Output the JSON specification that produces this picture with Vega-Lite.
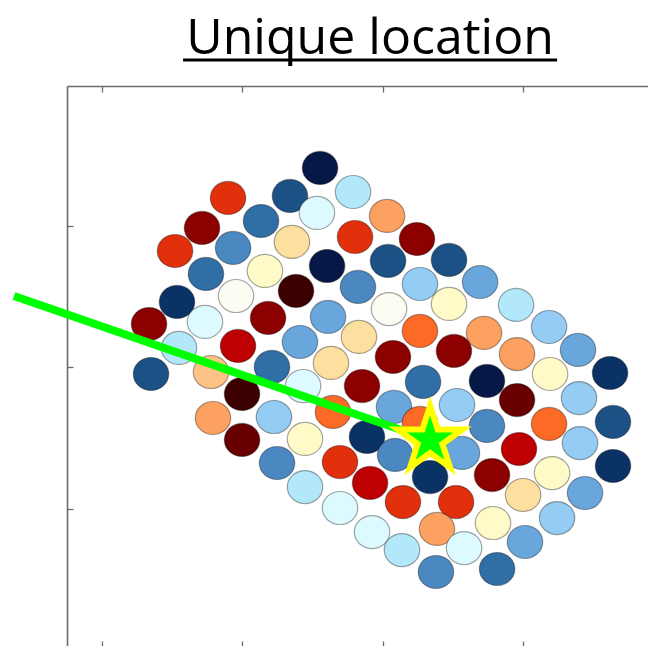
{
  "$schema": "https://vega.github.io/schema/vega-lite/v6.json",
  "width": 581,
  "height": 560,
  "autosize": {"type": "none"},
  "padding": {"left": 67, "top": 86, "right": 0, "bottom": 0},
  "background": "white",
  "config": {"view": {"stroke": null}},
  "datasets": {
    "cells": [
      {"x": 2.554, "y": 3.410, "level": 0},
      {"x": 2.789, "y": 3.240, "level": 7},
      {"x": 3.031, "y": 3.071, "level": 13},
      {"x": 3.244, "y": 2.908, "level": 17},
      {"x": 3.472, "y": 2.760, "level": 2},
      {"x": 3.693, "y": 2.604, "level": 5},
      {"x": 3.949, "y": 2.442, "level": 7},
      {"x": 4.184, "y": 2.286, "level": 6},
      {"x": 4.390, "y": 2.124, "level": 5},
      {"x": 4.618, "y": 1.961, "level": 1},
      {"x": 1.899, "y": 3.198, "level": 15},
      {"x": 2.340, "y": 3.212, "level": 2},
      {"x": 2.532, "y": 3.092, "level": 8},
      {"x": 2.803, "y": 2.922, "level": 15},
      {"x": 3.038, "y": 2.753, "level": 2},
      {"x": 3.265, "y": 2.590, "level": 6},
      {"x": 3.472, "y": 2.449, "level": 10},
      {"x": 3.721, "y": 2.244, "level": 13},
      {"x": 3.956, "y": 2.095, "level": 13},
      {"x": 4.191, "y": 1.954, "level": 10},
      {"x": 4.397, "y": 1.784, "level": 6},
      {"x": 4.639, "y": 1.615, "level": 2},
      {"x": 1.714, "y": 2.986, "level": 17},
      {"x": 2.134, "y": 3.035, "level": 3},
      {"x": 2.354, "y": 2.887, "level": 11},
      {"x": 2.604, "y": 2.717, "level": 0},
      {"x": 2.824, "y": 2.569, "level": 4},
      {"x": 3.045, "y": 2.413, "level": 9},
      {"x": 3.265, "y": 2.258, "level": 14},
      {"x": 3.507, "y": 2.117, "level": 17},
      {"x": 3.742, "y": 1.905, "level": 0},
      {"x": 3.956, "y": 1.770, "level": 18},
      {"x": 4.184, "y": 1.601, "level": 14},
      {"x": 4.404, "y": 1.466, "level": 6},
      {"x": 4.639, "y": 1.304, "level": 1},
      {"x": 1.522, "y": 2.823, "level": 15},
      {"x": 1.935, "y": 2.845, "level": 4},
      {"x": 2.162, "y": 2.682, "level": 10},
      {"x": 2.383, "y": 2.541, "level": 19},
      {"x": 2.611, "y": 2.357, "level": 5},
      {"x": 2.831, "y": 2.216, "level": 11},
      {"x": 3.073, "y": 2.074, "level": 17},
      {"x": 3.287, "y": 1.898, "level": 3},
      {"x": 3.529, "y": 1.735, "level": 6},
      {"x": 3.742, "y": 1.587, "level": 4},
      {"x": 3.970, "y": 1.424, "level": 16},
      {"x": 4.205, "y": 1.254, "level": 10},
      {"x": 4.440, "y": 1.113, "level": 5},
      {"x": 1.742, "y": 2.661, "level": 3},
      {"x": 1.956, "y": 2.505, "level": 9},
      {"x": 2.184, "y": 2.350, "level": 17},
      {"x": 2.411, "y": 2.180, "level": 5},
      {"x": 2.632, "y": 2.032, "level": 11},
      {"x": 2.853, "y": 1.869, "level": 17},
      {"x": 3.080, "y": 1.721, "level": 5},
      {"x": 3.265, "y": 1.608, "level": 14},
      {"x": 3.564, "y": 1.396, "level": 5},
      {"x": 3.778, "y": 1.240, "level": 17},
      {"x": 3.999, "y": 1.099, "level": 11},
      {"x": 4.241, "y": 0.936, "level": 6},
      {"x": 1.536, "y": 2.463, "level": 1},
      {"x": 1.735, "y": 2.322, "level": 8},
      {"x": 1.970, "y": 2.152, "level": 16},
      {"x": 2.212, "y": 2.004, "level": 3},
      {"x": 2.433, "y": 1.869, "level": 8},
      {"x": 2.646, "y": 1.686, "level": 14},
      {"x": 2.888, "y": 1.509, "level": 1},
      {"x": 3.088, "y": 1.382, "level": 4},
      {"x": 3.337, "y": 1.226, "level": 1},
      {"x": 3.522, "y": 1.049, "level": 15},
      {"x": 3.785, "y": 0.901, "level": 10},
      {"x": 4.013, "y": 0.767, "level": 5},
      {"x": 1.337, "y": 2.307, "level": 17},
      {"x": 1.550, "y": 2.138, "level": 7},
      {"x": 1.778, "y": 1.968, "level": 12},
      {"x": 1.999, "y": 1.813, "level": 19},
      {"x": 2.226, "y": 1.650, "level": 6},
      {"x": 2.447, "y": 1.495, "level": 10},
      {"x": 2.696, "y": 1.332, "level": 15},
      {"x": 2.910, "y": 1.184, "level": 16},
      {"x": 3.144, "y": 1.049, "level": 15},
      {"x": 3.386, "y": 0.859, "level": 13},
      {"x": 3.579, "y": 0.724, "level": 8},
      {"x": 3.814, "y": 0.576, "level": 3},
      {"x": 1.351, "y": 1.954, "level": 2},
      {"x": 1.792, "y": 1.643, "level": 13},
      {"x": 1.999, "y": 1.488, "level": 18},
      {"x": 2.248, "y": 1.325, "level": 4},
      {"x": 2.447, "y": 1.155, "level": 7},
      {"x": 2.696, "y": 1.007, "level": 8},
      {"x": 2.924, "y": 0.837, "level": 8},
      {"x": 3.137, "y": 0.710, "level": 7},
      {"x": 3.379, "y": 0.555, "level": 4}
    ],
    "track": [
      {"x": 0.376, "y": 2.505, "x2": 3.337, "y2": 1.488}
    ],
    "location": [
      {"x": 3.337, "y": 1.488}
    ],
    "heading": [
      {"x": 2.910, "y": 4.216, "x1": 1.579, "x2": 4.241, "yline": 4.173, "label": "Unique location"}
    ]
  },
  "layer": [
    {
      "data": {"name": "cells"},
      "mark": {
        "type": "point",
        "filled": true,
        "shape": "M-1,0A1,0.93,0,1,1,1,0A1,0.93,0,1,1,-1,0Z",
        "size": 1260,
        "opacity": 1,
        "stroke": "#000000",
        "strokeOpacity": 0.35,
        "strokeWidth": 1.2
      },
      "encoding": {
        "x": {
          "field": "x",
          "type": "quantitative",
          "scale": {"domain": [0.753, 4.888], "nice": false, "zero": false},
          "axis": {
            "orient": "top",
            "values": [1, 2, 3, 4],
            "labels": false,
            "title": null,
            "grid": false,
            "domain": true,
            "domainColor": "#6b6b6b",
            "domainWidth": 1.6,
            "ticks": true,
            "tickColor": "#6b6b6b",
            "tickWidth": 1.3,
            "tickSize": -6
          }
        },
        "y": {
          "field": "y",
          "type": "quantitative",
          "scale": {"domain": [0.032, 3.989], "nice": false, "zero": false},
          "axis": {
            "orient": "left",
            "values": [1, 2, 3],
            "labels": false,
            "title": null,
            "grid": false,
            "domain": true,
            "domainColor": "#6b6b6b",
            "domainWidth": 1.6,
            "ticks": true,
            "tickColor": "#6b6b6b",
            "tickWidth": 1.3,
            "tickSize": -6
          }
        },
        "color": {
          "field": "level",
          "type": "quantitative",
          "scale": {
            "domain": [0, 1, 2, 3, 4, 5, 6, 7, 8, 9, 10, 11, 12, 13, 14, 15, 16, 17, 18, 19],
            "range": ["#061846", "#0b3265", "#1c5186", "#306ea6", "#4b88c1", "#68a6dc", "#94ccf4", "#b3e8fa", "#dcfaff", "#fbfdf3", "#fefbc9", "#fde0a0", "#fdc286", "#fca160", "#fd6a26", "#e2300d", "#bf0003", "#8c0000", "#680000", "#3d0000"],
            "interpolate": "rgb"
          },
          "legend": null
        }
      }
    },
    {
      "data": {"name": "track"},
      "mark": {"type": "rule", "color": "#00ff00", "strokeWidth": 8, "strokeCap": "butt", "clip": false},
      "encoding": {
        "x": {
          "field": "x",
          "type": "quantitative",
          "axis": {
            "orient": "bottom",
            "values": [1, 2, 3, 4],
            "labels": false,
            "title": null,
            "grid": false,
            "domain": false,
            "ticks": true,
            "tickColor": "#6b6b6b",
            "tickWidth": 1.3,
            "tickSize": -5
          }
        },
        "y": {"field": "y", "type": "quantitative", "axis": null},
        "x2": {"field": "x2"},
        "y2": {"field": "y2"}
      }
    },
    {
      "data": {"name": "location"},
      "mark": {
        "type": "point",
        "filled": true,
        "shape": "M0,-1L0.2245,-0.309L0.951,-0.309L0.363,0.118L0.588,0.809L0,0.382L-0.588,0.809L-0.363,0.118L-0.951,-0.309L-0.2245,-0.309Z",
        "size": 4624,
        "opacity": 1,
        "fill": "#00ff00",
        "stroke": "#ffff00",
        "strokeWidth": 6,
        "strokeJoin": "miter",
        "clip": false
      },
      "encoding": {
        "x": {"field": "x", "type": "quantitative", "axis": null},
        "y": {"field": "y", "type": "quantitative", "axis": null}
      }
    },
    {
      "data": {"name": "heading"},
      "mark": {
        "type": "text",
        "font": "Open Sans",
        "fontSize": 50,
        "fontWeight": "normal",
        "color": "#000000",
        "align": "center",
        "baseline": "alphabetic",
        "clip": false
      },
      "encoding": {
        "x": {"field": "x", "type": "quantitative", "axis": null},
        "y": {"field": "y", "type": "quantitative", "axis": null},
        "text": {"field": "label"}
      }
    },
    {
      "data": {"name": "heading"},
      "mark": {"type": "rule", "color": "#000000", "strokeWidth": 3, "clip": false},
      "encoding": {
        "x": {"field": "x1", "type": "quantitative", "axis": null},
        "x2": {"field": "x2"},
        "y": {"field": "yline", "type": "quantitative", "axis": null}
      }
    }
  ],
  "resolve": {"axis": {"x": "independent", "y": "independent"}}
}
